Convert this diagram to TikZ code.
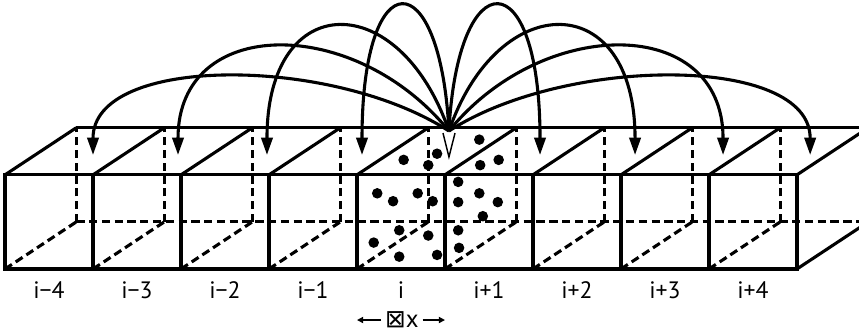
\documentclass[tikz,border=0pt]{standalone}
\usepackage{fontspec}
\setmainfont{PT Sans}
\newfontfamily\symfont{DejaVu Sans}
\usetikzlibrary{arrows.meta}

\begin{document}
\begin{tikzpicture}[x=1.5cm,y=1.5cm,line width=1.5pt,
  hidden/.style={dash pattern=on 4pt off 2.2pt},
  hop/.style={-{Triangle[length=8.5pt,width=5.5pt]}},
  span/.style={line width=0.7pt,-{Triangle[length=3pt,width=3pt]}}]
  \def\h{1.07}
  \def\dx{0.81}
  \def\dy{0.535}
  \useasboundingbox (-0.057,-0.727) rectangle (9.705,3.057);
  \clip (-0.057,-0.727) rectangle (9.705,3.057);

  % hidden edges
  \draw[hidden] (\dx,\dy) -- (10,\dy);
  \foreach \k in {0,...,8} {
    \draw[hidden] (\k+\dx,\dy) -- (\k+\dx,\h+\dy);
    \draw[hidden] (\k,0) -- (\k+\dx,\dy);
  }

  % visible edges
  \draw (\dx,\h+\dy) -- (10,\h+\dy);
  \draw (0,0) rectangle (9,\h);
  \foreach \k in {1,...,8} \draw (\k,0) -- (\k,\h);
  \foreach \k in {0,...,9} \draw (\k,\h) -- (\k+\dx,\h+\dy);
  \draw (9,0) -- (9+\dx,\dy);

  % particles
  \foreach \p in {(5.39,1.47),(4.53,1.24),(4.91,1.31),(4.81,1.18),(5.40,1.18),
    (5.61,1.24),(5.15,0.99),(4.23,0.86),(4.41,0.77),(4.69,0.86),(4.86,0.77),
    (5.39,0.86),(5.15,0.76),(5.60,0.76),(5.43,0.60),(4.48,0.44),(4.81,0.38),
    (4.19,0.30),(5.15,0.44),(5.16,0.24),(4.48,0.14),(4.91,0.16)}
    \fill \p circle[radius=0.06];

  % cell labels
  \foreach \lab [count=\k from 0] in {i−4,i−3,i−2,i−1,i,i+1,i+2,i+3,i+4}
    \node[anchor=base,font=\fontsize{11.5}{13}\selectfont] (c\k) at (\k+0.5,-0.34) {\lab};

  % cell width
  \node[anchor=base,inner sep=1.2pt,font=\fontsize{12}{14}\selectfont] (dx) at (4.51,-0.66) {{\symfont ⊠}x};
  \coordinate (l) at (4,-0.58);
  \coordinate (r) at (5,-0.58);
  \draw[span] (l -| dx.west) -- (l);
  \draw[span] (r -| dx.east) -- (r);

  % exchanges from cell i
  \coordinate (src) at (5.045,1.568);
  \draw[line width=0.7pt] (4.977,1.545) -- (5.045,1.273) -- (5.114,1.545);
  \foreach \n/\x in {0/1.0,1/1.966,2/2.977,3/4.057,5/6.08,6/7.16,7/8.16,8/9.15}
    \coordinate (to\n) at (\x,1.295);
  \foreach \n/\cx/\cy/\ty in {3/-0.10/1.94/2.22,2/-0.56/1.63/1.90,
    1/-1.07/1.32/1.59,0/-1.33/0.86/1.14,5/0.10/1.94/2.22,6/0.56/1.63/1.90,
    7/1.07/1.32/1.59,8/1.33/0.86/1.14}
    \draw[hop] (src) .. controls +(\cx,\cy) and +(0,\ty) .. (to\n);
\end{tikzpicture}
\end{document}
